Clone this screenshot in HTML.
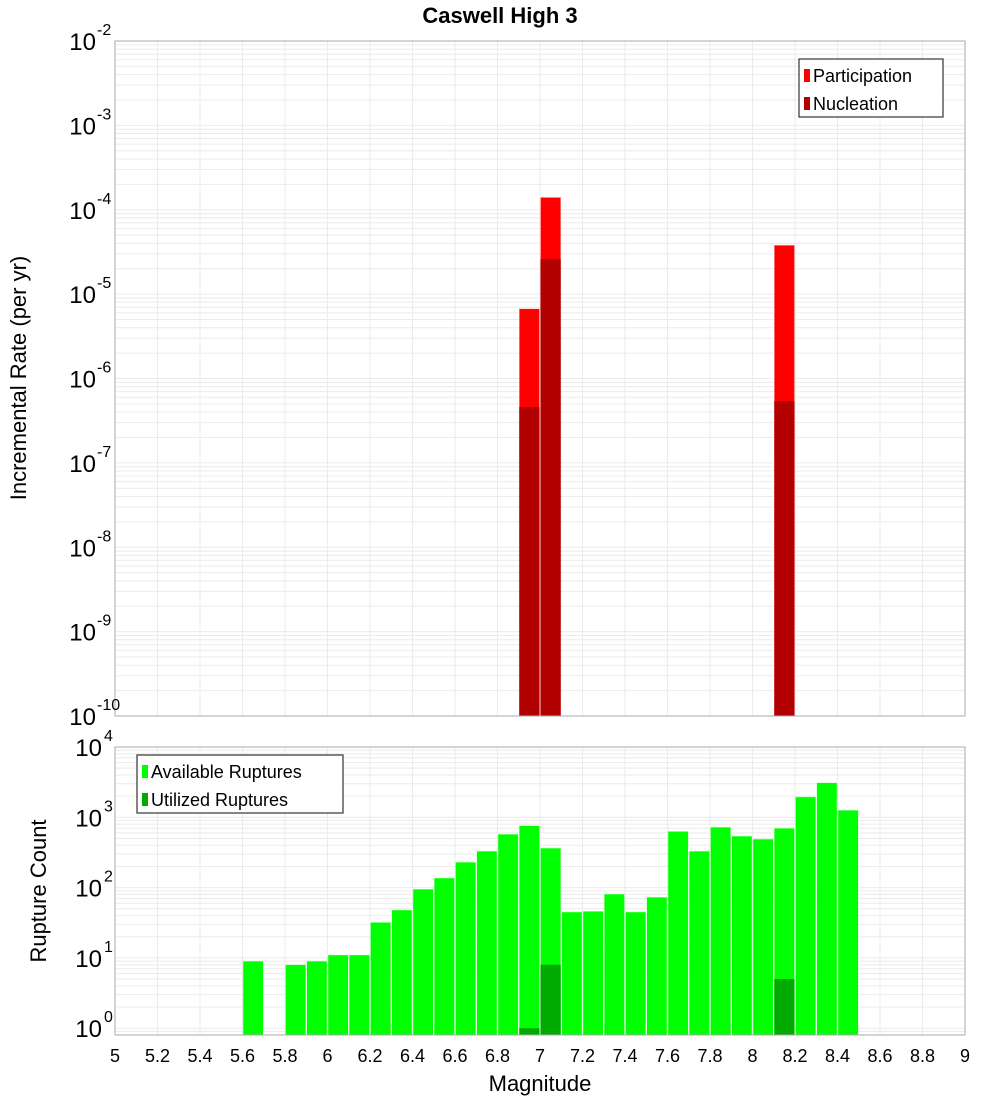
<!DOCTYPE html>
<html><head><meta charset="utf-8"><style>
body{margin:0;background:#fff;}
svg{display:block;font-family:"Liberation Sans","DejaVu Sans",sans-serif;}
</style></head><body>
<svg id="c" width="1000" height="1100" xmlns="http://www.w3.org/2000/svg"></svg>
<script>
const xTicks=[5,5.2,5.4,5.6,5.8,6,6.2,6.4,6.6,6.8,7,7.2,7.4,7.6,7.8,8,8.2,8.4,8.6,8.8,9];
const rateBins=[6.95,7.05,8.15];
const partValues=[6.7e-6,1.4e-4,3.8e-5];
const nuclValues=[4.6e-7,2.6e-5,5.4e-7];
const countBins=[5.65,5.85,5.95,6.05,6.15,6.25,6.35,6.45,6.55,6.65,6.75,6.85,6.95,7.05,7.15,7.25,7.35,7.45,7.55,7.65,7.75,7.85,7.95,8.05,8.15,8.25,8.35,8.45];
const availValues=[9,8,9,11,11,32,48,95,137,230,330,575,760,365,45,46,81,45,73,630,330,725,540,490,700,1950,3100,1260];
const utilBins=[6.95,7.05,8.15];
const utilValues=[1,8,5];
const topExps=[-2,-3,-4,-5,-6,-7,-8,-9,-10];
const botExps=[4,3,2,1,0];

const svg=document.getElementById('c');
const NS='http://www.w3.org/2000/svg';
function el(t,a,p){const e=document.createElementNS(NS,t);for(const k in a)e.setAttribute(k,a[k]);(p||svg).appendChild(e);return e;}
const X0=115,X1=965;
const xs=m=>X0+(m-5)/4*(X1-X0);
const T0=41,T1=716;
const yTop=v=>T0+(-2-Math.log10(v))*(T1-T0)/8;
const B0=747,B1=1035,BD=70.3;
const yBot=v=>Math.min(B1,B0+(4-Math.log10(v))*BD);
const bw=(X1-X0)/40;

const t=el('text',{x:500,y:23,'text-anchor':'middle','font-size':22,'font-weight':'bold'});
t.textContent='Caswell High 3';

function grid(y0,y1,ylin){
  const g=el('g',{stroke:'#ebebeb','stroke-width':1});
  
  xTicks.forEach(m=>el('line',{x1:xs(m),x2:xs(m),y1:y0,y2:y1},g));
  ylin.forEach(y=>{if(y>=y0&&y<=y1)el('line',{x1:X0,x2:X1,y1:y,y2:y},g);});
}
// top grid
let tl=[];for(let e=-10;e<-2;e++)for(let k=1;k<10;k++)tl.push(yTop(k*Math.pow(10,e)));tl.push(yTop(1e-2));
grid(T0,T1,tl);
let bl=[];for(let e=-1;e<4;e++)for(let k=1;k<10;k++)bl.push(yBot(k*Math.pow(10,e)));bl.push(B0);
grid(B0,B1,bl);

// top bars
rateBins.forEach((m,i)=>{
  const r=el('rect',{x:xs(m)-bw/2+0.5,y:yTop(partValues[i]),width:bw-1,height:T1-yTop(partValues[i]),fill:'#ff0000',stroke:'#ffc0c0','stroke-width':0.5});
  
  const n=el('rect',{x:xs(m)-bw/2+0.5,y:yTop(nuclValues[i]),width:bw-1,height:T1-yTop(nuclValues[i]),fill:'#b30000'});
  
});
countBins.forEach((m,i)=>{
  const r=el('rect',{x:xs(m)-bw/2+0.5,y:yBot(availValues[i]),width:bw-1,height:B1-yBot(availValues[i]),fill:'#00ff00',stroke:'#c0ffc0','stroke-width':0.5});
  
});
utilBins.forEach((m,i)=>{
  const r=el('rect',{x:xs(m)-bw/2+0.5,y:yBot(utilValues[i]),width:bw-1,height:B1-yBot(utilValues[i]),fill:'#00aa00'});
  
});

// frames
const f1=el('rect',{x:X0,y:T0,width:X1-X0,height:T1-T0,fill:'none',stroke:'#aaa'});

const f2=el('rect',{x:X0,y:B0,width:X1-X0,height:B1-B0,fill:'none',stroke:'#aaa'});


function pow(x,y,e,name){
  const g=el('text',{x:x,y:y,'text-anchor':'end','font-size':24});
  
  g.textContent='10';
  const s=el('tspan',{dy:-12,'font-size':16},g);s.textContent=String(e);
}
topExps.forEach(e=>{const y=yTop(Math.pow(10,e));
  const g=el('text',{x:96,y:y+9,'text-anchor':'end','font-size':24});
  g.textContent='10';
  const s=el('text',{x:97,y:y-6,'font-size':16},svg);s.textContent=String(e);
});
botExps.forEach(e=>{const y=B0+(4-e)*BD;
  const g=el('text',{x:102,y:y+9,'text-anchor':'end','font-size':24});
  g.textContent='10';
  const s=el('text',{x:104,y:y-6,'font-size':16});s.textContent=String(e);
});
xTicks.forEach(m=>{
  const g=el('text',{x:xs(m),y:1062,'text-anchor':'middle','font-size':18});
  g.textContent=String(m);
});
const xa=el('text',{x:540,y:1091,'text-anchor':'middle','font-size':22});
xa.textContent='Magnitude';
const ya=el('text',{x:0,y:0,'text-anchor':'middle','font-size':22,transform:'translate(26,378) rotate(-90)'});
ya.textContent='Incremental Rate (per yr)';
const yb=el('text',{x:0,y:0,'text-anchor':'middle','font-size':22,transform:'translate(46,891) rotate(-90)'});
yb.textContent='Rupture Count';

function legend(x,y,w,items,name){
  const g=el('g',{});
  el('rect',{x:x,y:y,width:w,height:58,fill:'#fff',stroke:'#333','stroke-width':1.2},g);
  items.forEach((it,i)=>{
    const sw=el('rect',{x:x+5,y:y+10+i*28,width:6,height:13,fill:it[1]},g);
    
    const tx=el('text',{x:x+14,y:y+23+i*28,'font-size':18},g);
    tx.textContent=it[0];
  });
}
legend(799,59,144,[['Participation','#ff0000'],['Nucleation','#b30000']],'top-legend');
legend(137,755,206,[['Available Ruptures','#00ff00'],['Utilized Ruptures','#00aa00']],'bottom-legend');
</script>
</body></html>
